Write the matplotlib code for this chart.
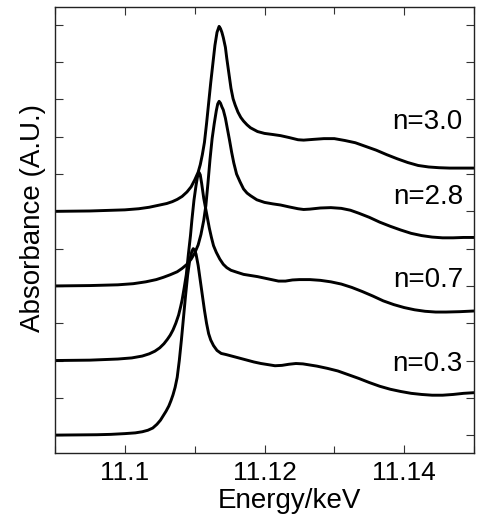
import matplotlib
matplotlib.use("Agg")
import matplotlib.pyplot as plt
from matplotlib.ticker import MultipleLocator, NullFormatter

plt.rcParams['font.family'] = ['Liberation Sans', 'DejaVu Sans']

# Energy (keV) and relative absorbance (before vertical offset)
e_03 = [11.0900, 11.0960, 11.0980, 11.1000, 11.1015, 11.1025, 11.1033, 11.1040, 11.1046,
        11.1051, 11.1055, 11.1059, 11.1063, 11.1066, 11.1069, 11.1072, 11.1075, 11.1078,
        11.1081, 11.1084, 11.1087, 11.1090, 11.1093, 11.1096, 11.1098, 11.1100, 11.1102,
        11.1105, 11.1108, 11.1111, 11.1114, 11.1117, 11.1120, 11.1123, 11.1127, 11.1132,
        11.1138, 11.1145, 11.1155, 11.1165, 11.1175, 11.1185, 11.1195, 11.1205, 11.1215,
        11.1225, 11.1235, 11.1245, 11.1255, 11.1265, 11.1275, 11.1290, 11.1305, 11.1320,
        11.1335, 11.1350, 11.1365, 11.1380, 11.1395, 11.1410, 11.1425, 11.1440, 11.1455,
        11.1470, 11.1485, 11.1502]
a_03 = [0.00, 0.01, 0.02, 0.04, 0.06, 0.09, 0.13, 0.19, 0.29,
        0.40, 0.52, 0.64, 0.78, 0.92, 1.08, 1.28, 1.55, 2.00,
        2.55, 3.15, 3.75, 4.30, 4.70, 4.93, 5.00, 4.96, 4.85,
        4.55, 4.15, 3.75, 3.35, 3.00, 2.72, 2.55, 2.40, 2.27,
        2.19, 2.16, 2.11, 2.06, 2.01, 1.96, 1.92, 1.89, 1.86,
        1.87, 1.90, 1.92, 1.91, 1.88, 1.85, 1.79, 1.72, 1.62,
        1.52, 1.41, 1.31, 1.23, 1.17, 1.12, 1.09, 1.07, 1.07,
        1.09, 1.12, 1.14]

e_07 = [11.0900, 11.0950, 11.0990, 11.1010, 11.1025, 11.1035, 11.1043, 11.1050, 11.1056,
        11.1061, 11.1065, 11.1069, 11.1073, 11.1077, 11.1080, 11.1082, 11.1085, 11.1088,
        11.1091, 11.1094, 11.1096, 11.1099, 11.1102, 11.1104, 11.1106, 11.1108, 11.1110,
        11.1113, 11.1116, 11.1118, 11.1121, 11.1124, 11.1127, 11.1131, 11.1136, 11.1141,
        11.1146, 11.1152, 11.1160, 11.1170, 11.1180, 11.1190, 11.1200, 11.1210, 11.1220,
        11.1230, 11.1240, 11.1250, 11.1265, 11.1280, 11.1295, 11.1310, 11.1325, 11.1340,
        11.1355, 11.1370, 11.1385, 11.1400, 11.1415, 11.1430, 11.1445, 11.1460, 11.1480,
        11.1502]
a_07 = [0.00, 0.01, 0.04, 0.07, 0.12, 0.18, 0.25, 0.34, 0.45,
        0.57, 0.68, 0.82, 1.00, 1.22, 1.45, 1.62, 1.95, 2.30,
        2.85, 3.35, 3.76, 4.30, 4.70, 4.92, 5.05, 4.98, 4.75,
        4.35, 4.05, 3.85, 3.55, 3.30, 3.08, 2.90, 2.72, 2.58,
        2.49, 2.42, 2.37, 2.31, 2.28, 2.25, 2.21, 2.17, 2.13,
        2.13, 2.16, 2.17, 2.17, 2.15, 2.11, 2.05, 1.96, 1.85,
        1.73, 1.60, 1.50, 1.42, 1.36, 1.32, 1.30, 1.30, 1.31,
        1.33]

e_28 = [11.0900, 11.0950, 11.0990, 11.1012, 11.1030, 11.1045, 11.1055, 11.1065, 11.1075,
        11.1082, 11.1089, 11.1095, 11.1100, 11.1105, 11.1109, 11.1113, 11.1116, 11.1119,
        11.1122, 11.1125, 11.1128, 11.1131, 11.1133, 11.1135, 11.1137, 11.1139, 11.1141,
        11.1144, 11.1147, 11.1150, 11.1153, 11.1156, 11.1160, 11.1165, 11.1170, 11.1175,
        11.1180, 11.1189, 11.1200, 11.1212, 11.1223, 11.1235, 11.1248, 11.1256, 11.1265,
        11.1280, 11.1295, 11.1310, 11.1323, 11.1335, 11.1350, 11.1365, 11.1380, 11.1395,
        11.1410, 11.1425, 11.1440, 11.1455, 11.1470, 11.1485, 11.1502]
a_28 = [0.00, 0.01, 0.03, 0.06, 0.11, 0.17, 0.23, 0.30, 0.38,
        0.47, 0.58, 0.72, 0.88, 1.10, 1.38, 1.76, 2.15, 2.75,
        3.40, 3.95, 4.35, 4.70, 4.88, 4.95, 4.90, 4.80, 4.72,
        4.50, 4.20, 3.90, 3.58, 3.30, 3.00, 2.79, 2.60, 2.49,
        2.42, 2.31, 2.24, 2.20, 2.17, 2.12, 2.07, 2.05, 2.06,
        2.09, 2.10, 2.08, 2.03, 1.95, 1.84, 1.71, 1.60, 1.50,
        1.41, 1.35, 1.31, 1.29, 1.29, 1.30, 1.30]

e_30 = [11.0900, 11.0950, 11.1000, 11.1020, 11.1035, 11.1050, 11.1060, 11.1068, 11.1075,
        11.1082, 11.1089, 11.1095, 11.1100, 11.1105, 11.1108, 11.1111, 11.1114, 11.1117,
        11.1120, 11.1123, 11.1126, 11.1129, 11.1132, 11.1135, 11.1137, 11.1139, 11.1141,
        11.1144, 11.1146, 11.1149, 11.1152, 11.1155, 11.1158, 11.1162, 11.1166, 11.1170,
        11.1175, 11.1180, 11.1190, 11.1200, 11.1212, 11.1223, 11.1235, 11.1248, 11.1256,
        11.1270, 11.1285, 11.1300, 11.1315, 11.1330, 11.1345, 11.1360, 11.1375, 11.1390,
        11.1405, 11.1420, 11.1435, 11.1450, 11.1465, 11.1480, 11.1502]
a_30 = [0.00, 0.01, 0.04, 0.07, 0.11, 0.17, 0.21, 0.26, 0.32,
        0.40, 0.52, 0.66, 0.84, 1.05, 1.25, 1.52, 1.85, 2.35,
        2.90, 3.45, 3.95, 4.45, 4.80, 4.96, 4.90, 4.80, 4.66,
        4.40, 4.10, 3.70, 3.30, 3.02, 2.85, 2.66, 2.52, 2.42,
        2.32, 2.24, 2.14, 2.09, 2.06, 2.03, 1.98, 1.92, 1.91,
        1.93, 1.95, 1.95, 1.90, 1.84, 1.74, 1.64, 1.52, 1.41,
        1.31, 1.23, 1.19, 1.17, 1.16, 1.16, 1.16]

series = [(e_03, a_03), (e_07, a_07), (e_28, a_28), (e_30, a_30)]
offsets = [0, 2, 4, 6]
labels = ["n=0.3", "n=0.7", "n=2.8", "n=3.0"]
label_y = [1.92, 4.16, 6.39, 8.40]

fig = plt.figure(figsize=(4.79, 5.21), dpi=100)
ax = fig.add_axes([0.1148, 0.1305, 0.8748, 0.8561])

for (e, a), off in zip(series, offsets):
    ax.plot(e, [v + off for v in a], color='black', lw=2.1,
            solid_joinstyle='round', solid_capstyle='round')

for lab, ly in zip(labels, label_y):
    ax.text(11.1484, ly, lab, ha='right', va='center', fontsize=20)

ax.set_xlim(11.09, 11.15)
ax.set_ylim(-0.48, 11.48)
ax.xaxis.set_minor_locator(MultipleLocator(0.01))
ax.set_xticks([11.10, 11.12, 11.14])
ax.set_xticklabels(["11.1", "11.12", "11.14"])
ax.yaxis.set_major_locator(MultipleLocator(1))
ax.yaxis.set_major_formatter(NullFormatter())

ax.tick_params(which='both', direction='in', top=True, right=True, width=0.8, colors='#333333',
               labelcolor='black')
ax.tick_params(which='major', length=6, labelsize=19, pad=6)
ax.tick_params(which='minor', length=5)
for s in ax.spines.values():
    s.set_linewidth(1.0)
    s.set_color('#222222')

ax.set_xlabel("Energy/keV", fontsize=20, x=0.56, labelpad=2)
ax.set_ylabel("Absorbance (A.U.)", fontsize=20, labelpad=0.5, y=0.527)

fig.savefig("out.png", dpi=100)
